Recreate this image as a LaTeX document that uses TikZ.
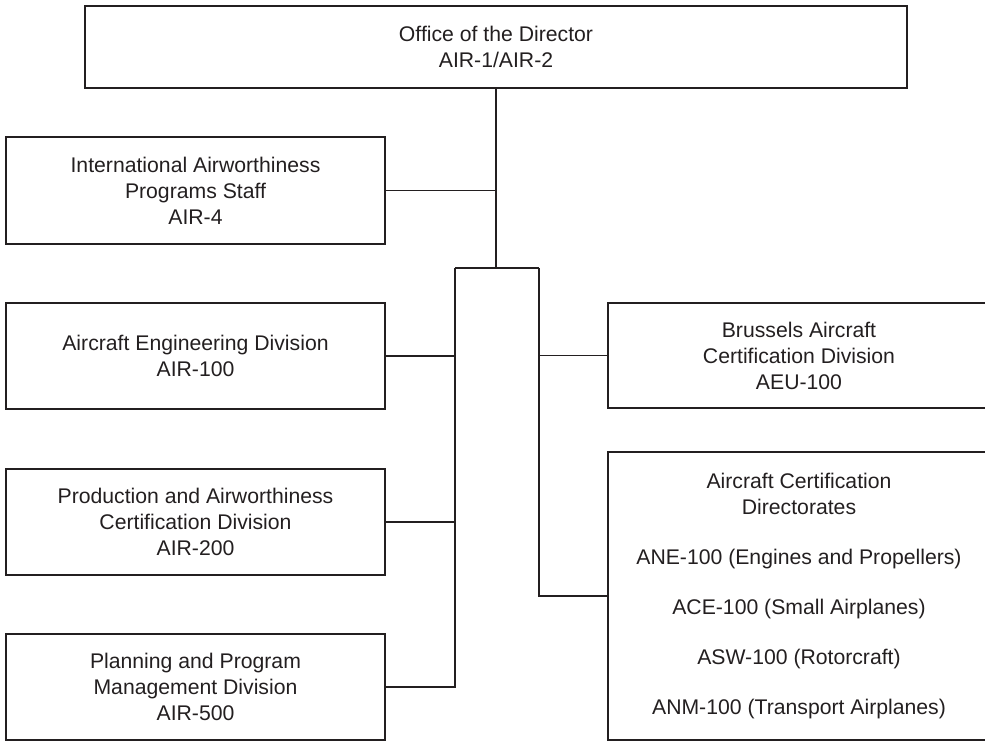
\documentclass[tikz,border=0pt]{standalone}
\usepackage{fontspec}
\setmainfont{Liberation Sans}
\definecolor{ink}{HTML}{231F20}
\begin{document}
\begin{tikzpicture}[x=1pt,y=-1pt,
  orgbox/.style={draw=ink, line width=1.1pt, inner sep=0pt, align=center,
    text=ink, font=\fontsize{21.2}{26}\selectfont},
  leftbox/.style={orgbox, minimum width=379pt, minimum height=106pt},
  link/.style={draw=ink, line width=1.1pt}]
  \useasboundingbox (0,0) rectangle (985,743);
  \clip (0,0) rectangle (985,743);

  % top of the chart
  \node[orgbox, minimum width=822pt, minimum height=82pt] (director) at (496,47)
    {Office of the Director\\AIR-1/AIR-2};

  % staff and divisions on the left
  \node[leftbox, minimum height=107pt] (intl) at (195.5,190.5)
    {International Airworthiness\\Programs Staff\\AIR-4};
  \node[leftbox] (eng) at (195.5,356)
    {Aircraft Engineering Division\\AIR-100};
  \node[leftbox] (prod) at (195.5,522)
    {Production and Airworthiness\\Certification Division\\AIR-200};
  \node[leftbox] (plan) at (195.5,687)
    {Planning and Program\\Management Division\\AIR-500};

  % divisions on the right
  \node[orgbox, minimum width=382pt, minimum height=105pt] (brussels) at (799,355.5)
    {Brussels Aircraft\\Certification Division\\AEU-100};
  \node[orgbox, minimum width=382pt, minimum height=288pt] (acd) at (799,596)
    {Aircraft Certification\\Directorates\\[24pt]
     ANE-100 (Engines and Propellers)\\[24pt]
     ACE-100 (Small Airplanes)\\[24pt]
     ASW-100 (Rotorcraft)\\[24pt]
     ANM-100 (Transport Airplanes)};

  % branch points of the connector tree
  \coordinate (bm) at (496,268);
  \coordinate (bl) at (455,268);
  \coordinate (br) at (539,268);

  \draw[link] (director.south) -- (bm);
  \draw[link] (intl.east) -- (intl.east -| bm);
  \draw[link] (bl) -- (br);
  \draw[link] (bl) |- (plan.east);
  \draw[link] (eng.east) -- (eng.east -| bl);
  \draw[link] (prod.east) -- (prod.east -| bl);
  \draw[link] (br) |- (acd.west);
  \draw[link] (brussels.west) -- (brussels.west -| br);
\end{tikzpicture}
\end{document}
